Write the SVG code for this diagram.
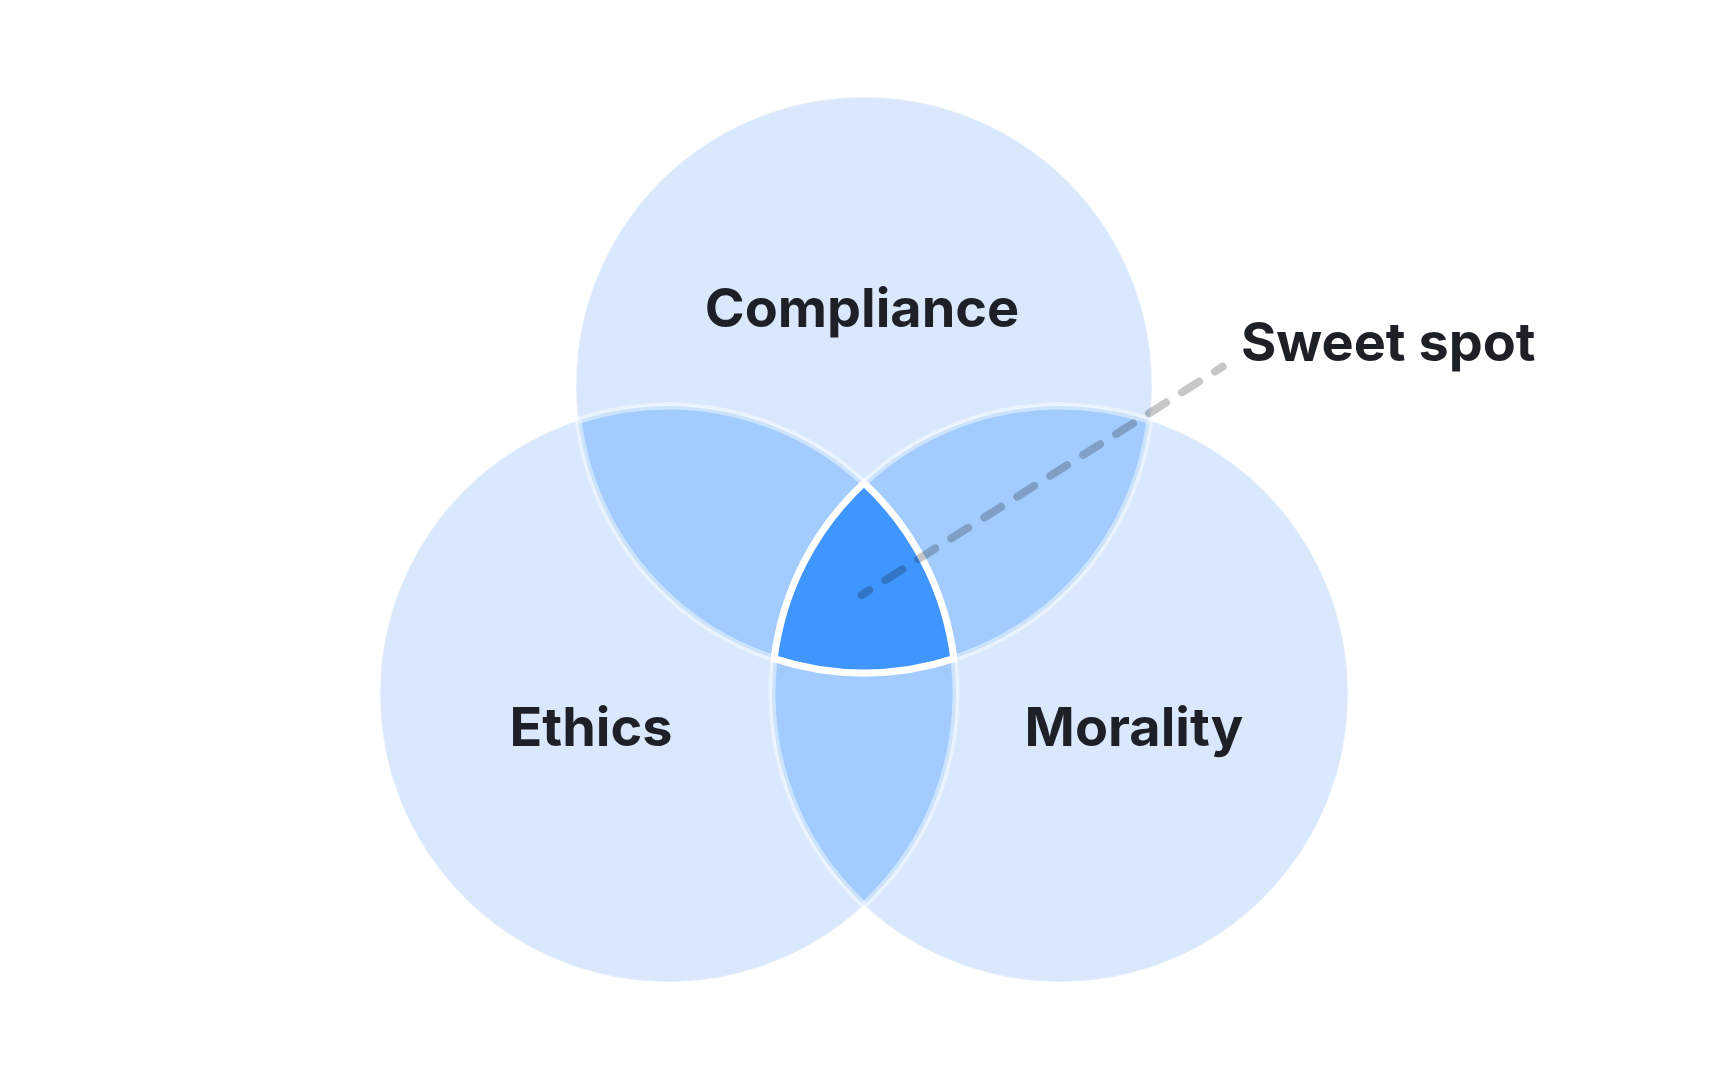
<svg xmlns="http://www.w3.org/2000/svg" width="1728" height="1080" viewBox="0 0 1728 1080">
  <style>
    .set { fill: #D9E8FD; stroke: #FFFFFF; stroke-opacity: 0.3; stroke-width: 2; }
    .pair { fill: #A3CCFE; }
    .outline { fill: none; stroke: #FFFFFF; stroke-opacity: 0.45; stroke-width: 7; }
    .core { fill: #4096FF; stroke: #FFFFFF; stroke-width: 7; stroke-linejoin: miter; }
    .label { font-family: Inter, "Liberation Sans", sans-serif; font-weight: 700; font-size: 54px; fill: #1E2028; }
    .leader { fill: none; stroke: #000000; stroke-opacity: 0.22; stroke-width: 8; stroke-linecap: round; stroke-dasharray: 20 19; }
  </style>
  <defs>
    <clipPath id="clipC"><circle cx="864" cy="385" r="288"/></clipPath>
    <clipPath id="clipE"><circle cx="668" cy="694" r="288"/></clipPath>
  </defs>
  <rect width="1728" height="1080" fill="#FFFFFF"/>

  <g id="node-compliance">
    <circle class="set" cx="864" cy="385" r="288"/>
  </g>
  <g id="node-ethics">
    <circle class="set" cx="668" cy="694" r="288"/>
  </g>
  <g id="node-morality">
    <circle class="set" cx="1060" cy="694" r="288"/>
  </g>

  <g id="overlaps">
    <circle class="pair" cx="668" cy="694" r="288" clip-path="url(#clipC)"/>
    <circle class="pair" cx="1060" cy="694" r="288" clip-path="url(#clipC)"/>
    <circle class="pair" cx="1060" cy="694" r="288" clip-path="url(#clipE)"/>
  </g>

  <g id="outlines">
    <path class="outline" d="M578.18,420.36 A288,288 0 0 0 1149.82,420.36"/>
    <path class="outline" d="M578.18,420.36 A288,288 0 0 1 864,905.02"/>
    <path class="outline" d="M1149.82,420.36 A288,288 0 0 0 864,905.02"/>
  </g>

  <g id="node-sweet-spot">
    <path class="core" d="M864,483 A288,288 0 0 0 774.18,658.64 A288,288 0 0 0 953.82,658.64 A288,288 0 0 0 864,483 Z"/>
  </g>

  <g id="connectors">
    <path class="leader" stroke-dashoffset="11" d="M861.7,595 L1222.7,366.7"/>
  </g>

  <g id="labels">
    <text class="label" x="862" y="327" text-anchor="middle">Compliance</text>
    <text class="label" x="591" y="746" text-anchor="middle">Ethics</text>
    <text class="label" x="1134" y="746" text-anchor="middle">Morality</text>
    <text class="label" x="1241" y="361">Sweet spot</text>
  </g>
</svg>
